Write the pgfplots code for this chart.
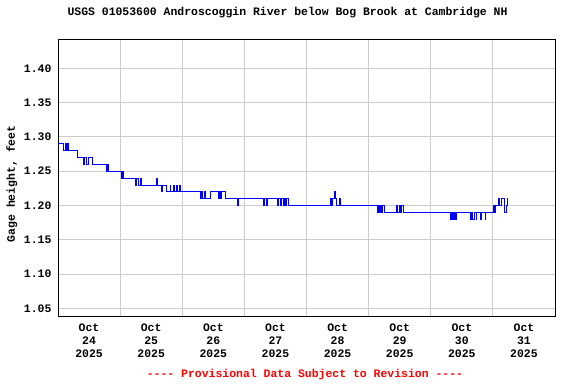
\documentclass[border=0pt]{standalone}
\usepackage{pgfplots}
\pgfplotsset{compat=1.18}
\usepackage{fontspec}
\setmainfont{Liberation Mono}[Ligatures=TeXOff]
\definecolor{gridgray}{RGB}{204,204,204}
\definecolor{usgsblue}{RGB}{0,0,255}
\definecolor{usgsred}{RGB}{255,0,0}
\newcommand{\lab}{\fontsize{11.5}{13}\selectfont\bfseries}
\begin{document}
\begin{tikzpicture}[x=1bp,y=1bp]
\useasboundingbox (-58,-68) rectangle (518,316);
\begin{axis}[
  at={(0,0)}, anchor=south west,
  scale only axis, width=497bp, height=277bp,
  xmin=0, xmax=192, ymin=1.0388, ymax=1.4427,
  axis line style={black, line width=0.9pt},
  major tick length=0pt,
  xtick={24,48,72,96,120,144,168}, xticklabels={},
  extra x ticks={12,36,60,84,108,132,156,180},
  extra x tick labels={Oct\\24\\2025,Oct\\25\\2025,Oct\\26\\2025,Oct\\27\\2025,Oct\\28\\2025,Oct\\29\\2025,Oct\\30\\2025,Oct\\31\\2025},
  extra x tick style={grid=none, major tick length=0pt},
  xticklabel style={align=center, font=\lab, yshift=-4bp},
  ytick={1.05,1.10,1.15,1.20,1.25,1.30,1.35,1.40},
  yticklabel style={/pgf/number format/fixed, /pgf/number format/fixed zerofill, /pgf/number format/precision=2, /pgf/number format/assume math mode=true, font=\lab, xshift=-3bp},
  grid=major,
  major grid style={gridgray, line width=0.9pt},
  ylabel={Gage height, feet},
  ylabel style={at={(axis description cs:-0.0926,0.477)}, anchor=center, font=\lab},
  title={USGS 01053600 Androscoggin River below Bog Brook at Cambridge NH},
  title style={at={(axis description cs:0.4618,1)}, anchor=center, yshift=20bp, font=\lab},
]
\addplot[const plot, usgsblue, line width=0.75pt] table {
x y
0 1.29
2.05 1.28
2.82 1.29
3.07 1.28
3.59 1.29
3.84 1.28
7.34 1.27
9.78 1.26
10.03 1.27
10.82 1.26
11.71 1.27
13.14 1.26
18.82 1.25
19.21 1.26
19.46 1.25
24.35 1.24
25.00 1.25
25.25 1.24
29.76 1.23
30.42 1.24
31.03 1.23
31.69 1.24
32.08 1.23
38.14 1.24
38.39 1.23
40.00 1.22
40.40 1.23
42.01 1.22
43.29 1.23
43.54 1.22
44.56 1.23
44.81 1.22
45.87 1.23
46.12 1.22
46.88 1.23
47.13 1.22
55.15 1.21
55.53 1.22
55.92 1.21
56.42 1.22
56.81 1.21
58.74 1.22
61.95 1.21
62.34 1.22
62.73 1.21
63.27 1.22
64.54 1.21
69.30 1.20
69.55 1.21
79.35 1.20
79.73 1.21
80.39 1.20
80.89 1.21
84.64 1.20
85.02 1.21
85.80 1.20
86.18 1.21
86.96 1.20
87.34 1.21
87.92 1.20
88.31 1.21
88.89 1.20
105.39 1.21
105.70 1.20
106.09 1.21
106.67 1.22
107.33 1.21
107.71 1.20
108.72 1.21
109.10 1.20
123.40 1.19
123.65 1.20
124.18 1.19
124.43 1.20
125.11 1.19
125.36 1.20
125.99 1.19
130.63 1.20
131.13 1.19
131.91 1.20
132.44 1.19
132.83 1.20
133.45 1.19
151.77 1.18
151.97 1.19
152.27 1.18
152.50 1.19
152.85 1.18
153.10 1.19
153.43 1.18
153.68 1.19
153.81 1.18
154.06 1.19
159.35 1.18
159.60 1.19
160.00 1.18
160.77 1.19
161.54 1.18
161.79 1.19
163.09 1.18
163.74 1.19
164.99 1.18
165.25 1.19
168.24 1.20
168.70 1.19
168.95 1.20
170.17 1.21
170.42 1.20
171.47 1.21
172.25 1.20
172.48 1.19
173.03 1.20
173.41 1.21
173.65 1.21
};
\end{axis}
\node[font=\lab, text=usgsred] at (247,-59) {---- Provisional Data Subject to Revision ----};
\end{tikzpicture}
\end{document}
